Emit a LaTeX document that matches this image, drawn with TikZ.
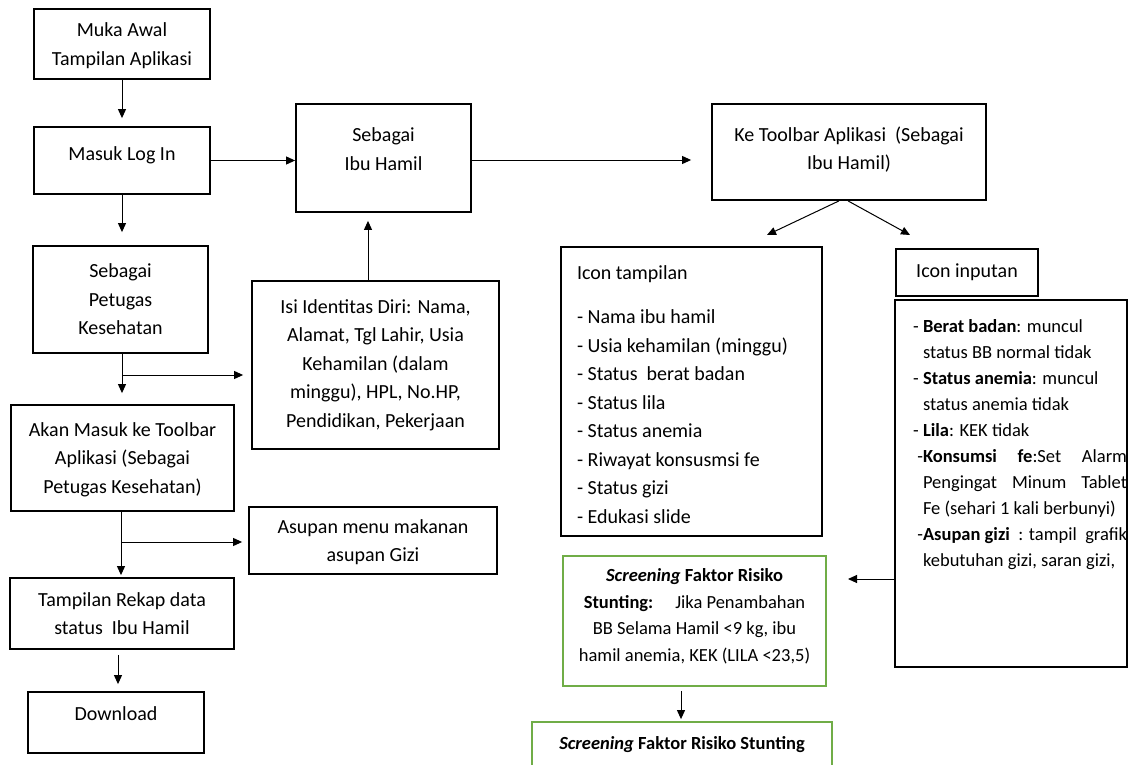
\documentclass[tikz,border=0pt]{standalone}
\usepackage{fontspec}
\setmainfont{Carlito}
\usetikzlibrary{arrows.meta, positioning, calc}
\definecolor{ScreenGreen}{RGB}{112,173,71}
\newcommand{\bigtext}{\fontsize{20}{28.5}\selectfont}
\newcommand{\smalltext}{\fontsize{18.5}{26}\selectfont}
\newcommand{\midtext}{\fontsize{18.5}{26.5}\selectfont}

\begin{document}
\begin{tikzpicture}[x=1pt, y=-1pt,
        box/.style 2 args={draw, line width=1.8pt, inner sep=0pt, minimum width=#1, minimum height=#2, align=center, font=\bigtext},
        greenbox/.style 2 args={draw=ScreenGreen, line width=1.8pt, inner sep=0pt, minimum width=#1, minimum height=#2, align=center, font=\midtext},
        arrow/.style={-{Triangle[length=9pt, width=8pt]}, line width=1pt}
    ]
        \useasboundingbox (0,0) rectangle (1129,765);
        \clip (0,0) rectangle (1129,765);

        % left column
        \node[box={176pt}{70pt}, text depth=0pt] (muka) at (122,44) {Muka Awal\\Tampilan Aplikasi};
        \node[box={176pt}{67pt}, text depth=14pt] (login) at (122,160.5) {Masuk Log In};
        \node[box={175pt}{107pt}] (petugas) at (120.5,299.5) {Sebagai\\Petugas\\Kesehatan};
        \node[box={223pt}{106pt}, text depth=0pt] (akan) at (122.5,458) {Akan Masuk ke Toolbar\\Aplikasi (Sebagai\\Petugas Kesehatan)};
        \node[box={224pt}{71pt}] (rekap) at (122,613.5) {Tampilan Rekap data\\status~~Ibu Hamil};
        \node[box={176pt}{61pt}, text depth=18pt] (download) at (116,722.5) {Download};

        % middle column
        \node[box={175pt}{108pt}, text depth=18pt] (ibu) at (383.5,158) {Sebagai\\Ibu Hamil};
        \node[box={247pt}{168pt}] (identitas) at (375.5,365) {Isi Identitas Diri: Nama,\\Alamat, Tgl Lahir, Usia\\Kehamilan (dalam\\minggu), HPL, No.HP,\\Pendidikan, Pekerjaan};
        \node[box={248pt}{67pt}, text depth=0pt] (asupan) at (373,540.5) {Asupan menu makanan\\asupan Gizi};

        % right part
        \node[box={274pt}{96pt}, text depth=8pt] (toolbar) at (849,152) {Ke Toolbar Aplikasi~~(Sebagai\\Ibu Hamil)};
        \node[draw, line width=1.5pt, inner xsep=16pt, inner ysep=0pt, font=\bigtext] (tampil) at (691.5,391.5) {%
            \parbox[c][289pt][t]{229pt}{\rule{0pt}{32pt}Icon tampilan\\[16pt]
            - Nama ibu hamil\\
            - Usia kehamilan (minggu)\\
            - Status~~berat badan\\
            - Status lila\\
            - Status anemia\\
            - Riwayat konsusmsi fe\\
            - Status gizi\\
            - Edukasi slide}};
        \node[box={142pt}{47pt}] (inputan) at (967,272.5) {Icon inputan};
        \node[draw, line width=1.8pt, inner sep=0pt, font=\smalltext] (inputdetail) at (1011,483.5) {%
            \parbox[c][367pt][t]{232pt}{\leftskip=28pt\rightskip=0pt\rule{0pt}{32pt}%
            \llap{- }\textbf{Berat badan}: muncul\\
            status BB normal tidak\\
            \llap{- }\textbf{Status anemia}: muncul\\
            status anemia tidak\\
            \llap{- }\textbf{Lila}: KEK tidak\\
            \llap{-}\textbf{Konsumsi}\hfill\textbf{fe}:Set\hfill Alarm\\
            Pengingat\hfill Minum\hfill Tablet\\
            Fe (sehari 1 kali berbunyi)\\
            \llap{-}\textbf{Asupan gizi}\hfill: tampil\hfill grafik\\
            kebutuhan gizi, saran gizi,}};
        \node[greenbox={263pt}{130pt}, text depth=12pt] (screen1) at (694.5,621) {\textbf{\textit{Screening} Faktor Risiko}\\\textbf{Stunting:}\hspace{22pt}Jika Penambahan\\BB Selama Hamil <9 kg, ibu\\hamil anemia, KEK (LILA <23,5)};
        \node[greenbox={300pt}{46pt}] (screen2) at (682,745) {\textbf{\textit{Screening} Faktor Risiko Stunting}};

        % helper points
        \coordinate (split1) at (122,375);
        \coordinate (split2) at (121,542);
        \coordinate (fanL) at (767,235);
        \coordinate (fanR) at (910,235);
        \coordinate (s1tip) at (848,579);

        % connectors
        \draw[arrow, shorten >=8pt] (muka) -- (login);
        \draw[arrow] (login) -- (login -| ibu.west);
        \draw[arrow, shorten >=13pt] (login) -- (login |- petugas.north);
        \draw[arrow, shorten >=8pt] ([xshift=-7.5pt]identitas.north) -- ([xshift=-7.5pt]identitas.north |- ibu.south);
        \draw[arrow, shorten >=20pt] ([yshift=-2pt]ibu.east) -- ([yshift=-2pt]ibu.east -| toolbar.west);
        \draw[arrow] ([xshift=-10pt]toolbar.south) -- (fanL);
        \draw[arrow] ([xshift=-1pt]toolbar.south) -- (fanR);
        \draw[arrow, shorten >=11pt] ([xshift=1.5pt]petugas.south) -- ([xshift=1.5pt]petugas.south |- akan.north);
        \draw[arrow, shorten >=8pt] (split1) -- (split1 -| identitas.west);
        \draw[arrow, shorten >=2pt] ([xshift=-1.5pt]akan.south) -- ([xshift=-1.5pt]akan.south |- rekap.north);
        \draw[arrow, shorten >=6pt] (split2) -- (split2 -| asupan.west);
        \draw[arrow, shorten <=5pt, shorten >=7pt] ([xshift=-4pt]rekap.south) -- ([xshift=-4pt]rekap.south |- download.north);
        \draw[arrow] (s1tip -| inputdetail.west) -- (s1tip);
        \draw[arrow, shorten <=4pt, shorten >=2pt] ([xshift=-13.5pt]screen1.south) -- ([xshift=-13.5pt]screen1.south |- screen2.north);

    \end{tikzpicture}
\end{document}
